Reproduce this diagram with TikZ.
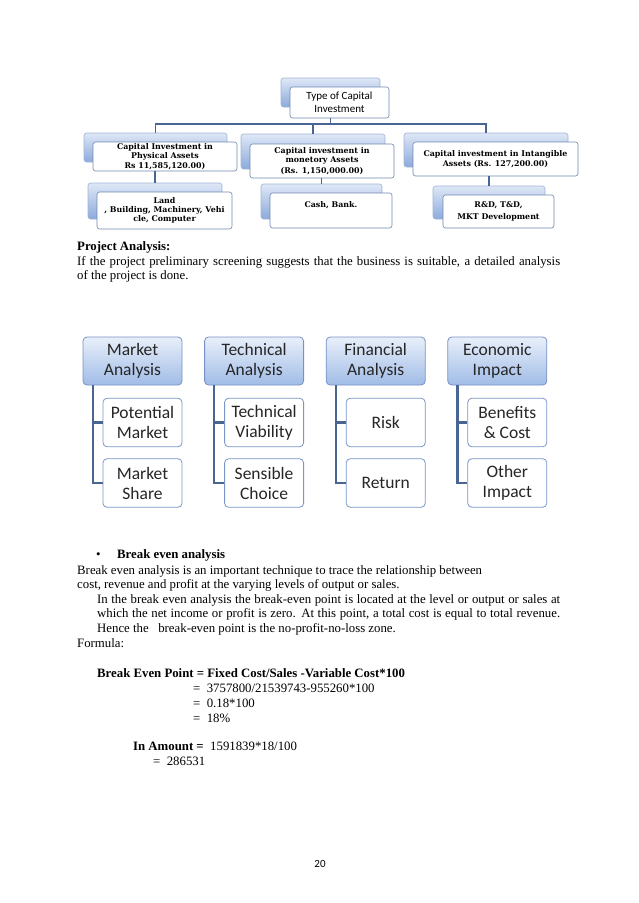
\documentclass[tikz,border=0pt]{standalone}
\usepackage{fontspec}
\setmainfont{Liberation Serif}
\newfontfamily\calfont{Carlito}
\newfontfamily\bookfont{DejaVu Serif}

\definecolor{backtop}{RGB}{222,231,246}
\definecolor{backbot}{RGB}{140,170,220}
\definecolor{backline}{RGB}{160,180,215}
\definecolor{frontline}{RGB}{112,136,176}
\definecolor{hdtop}{RGB}{232,239,250}
\definecolor{hdbot}{RGB}{160,188,230}
\definecolor{hdline}{RGB}{118,146,196}
\definecolor{kidline}{RGB}{122,150,200}
\definecolor{connline}{RGB}{72,102,145}

\newcommand{\bodyfont}{\fontsize{12.8}{14.5}\selectfont}

\begin{document}
\begin{tikzpicture}[
    x=1pt, y=-1pt,
    back/.style={draw=backline, line width=0.6pt, rounded corners=2.5pt, top color=backtop, bottom color=backbot},
    front/.style={draw=frontline, line width=0.6pt, fill=white, rounded corners=2.5pt, align=center, inner sep=0.5pt, font=\bookfont\bfseries\fontsize{7.9}{9.3}\selectfont},
    topbox/.style={front, font=\calfont\fontsize{11}{13}\selectfont},
    head/.style={draw=hdline, line width=0.8pt, rounded corners=4pt, top color=hdtop, bottom color=hdbot, minimum width=99pt, minimum height=48pt, align=center, text=black!85, font=\calfont\fontsize{17.5}{20}\selectfont},
    kid/.style={draw=kidline, line width=0.8pt, fill=white, rounded corners=4pt, minimum width=79pt, minimum height=48.5pt, align=center, text=black!85, font=\calfont\fontsize{17.5}{20}\selectfont},
    conn/.style={draw=connline, line width=2.2pt},
    thin/.style={draw=connline, line width=1.7pt},
    txt/.style={anchor=base west, inner sep=0pt, font=\bodyfont}
]
\useasboundingbox (0,0) rectangle (638,903);

% Type of capital investment
\node[back, minimum width=99pt, minimum height=29pt] (capB) at (330.5,92.5) {};
\node[back, minimum width=143pt, minimum height=29pt] (physB) at (155.5,147.5) {};
\node[back, minimum width=144pt, minimum height=35pt] (monB) at (313,151.5) {};
\node[back, minimum width=164pt, minimum height=34pt] (intB) at (486,150) {};
\node[back, minimum width=134pt, minimum height=36pt] (landB) at (155,201) {};
\node[back, minimum width=121pt, minimum height=35pt] (cashB) at (321.5,201.5) {};
\node[back, minimum width=112pt, minimum height=33pt] (rdB) at (489,202.5) {};

\node[topbox, minimum width=99pt, minimum height=31pt] (cap) at (339.5,102.5) {Type of Capital\\Investment};
\node[front, minimum width=144pt, minimum height=29pt] (phys) at (165,156.5) {Capital Investment in\\Physical Assets\\Rs 11,585,120.00)};
\node[front, minimum width=144pt, minimum height=34pt] (mon) at (322,161) {Capital investment in\\monetory Assets\\[2pt](Rs. 1,150,000.00)};
\node[front, minimum width=165pt, minimum height=34pt] (int) at (495.5,159) {Capital investment in Intangible\\Assets (Rs. 127,200.00)};
\node[front, minimum width=135pt, minimum height=37pt] (land) at (164.5,210.5) {Land\\, Building, Machinery, Vehi\\cle, Computer};
\node[front, minimum width=122pt, minimum height=35pt] (cash) at (331,210.5) {Cash, Bank.\\[2pt]\mbox{}};
\node[front, minimum width=111pt, minimum height=33pt] (rd) at (498.5,211.5) {R\&D, T\&D,\\[3pt]MKT Development};

\coordinate (bus) at (330.5,124);
\draw[thin] (cap.south -| capB.south) -- (bus);
\foreach \n in {physB, monB, intB}
    \draw[thin] (bus) -| (\n.north);
\draw[thin] (phys.south -| landB.north) -- (landB.north);
\draw[thin] (mon.south -| cashB.north) -- (cashB.north);
\draw[thin] (int.south -| rdB.north) -- (rdB.north);

% Project analysis
\node[txt] (pa) at (77,250) {\bfseries Project Analysis:};
\node[txt] (pa1) at (77,265) {\makebox[483pt][s]{If the project preliminary screening suggests that the business is suitable, a detailed analysis}};
\node[txt] (pa2) at (77,279) {of the project is done.};

\foreach \i/\nm/\hd/\ka/\kb in {0/mkt/{Market\\Analysis}/{Potential\\Market}/{Market\\Share},
    1/tec/{Technical\\Analysis}/{Technical\\Viability}/{Sensible\\Choice},
    2/fin/{Financial\\Analysis}/{Risk}/{Return},
    3/eco/{Economic\\Impact}/{Benefits\\\& Cost}/{Other\\Impact}}{
    \node[head] (\nm) at (132.5+121.6*\i,361) {\hd};
    \node[kid] (\nm1) at (142.5+121.6*\i,422.5) {\ka};
    \node[kid] (\nm2) at (142.5+121.6*\i,483) {\kb};
    \draw[conn] ([xshift=10pt]\nm.south west) |- (\nm2.west);
    \draw[conn] ([xshift=10pt]\nm.south west |- \nm1.west) -- (\nm1.west);
}

% Break even analysis
\node[txt] (bul) at (96,558) {\textbullet};
\node[txt] (be) at (117,558) {\bfseries Break even analysis};
\node[txt] (be1) at (77,574) {Break even analysis is an important technique to trace the relationship between};
\node[txt] (be2) at (77,588) {cost, revenue and profit at the varying levels of output or sales.};
\node[txt] (be3) at (97,603) {\makebox[463pt][s]{In the break even analysis the break-even point is located at the level or output or sales at}};
\node[txt] (be4) at (97,617) {\makebox[463pt][s]{which the net income or profit is zero. At this point, a total cost is equal to total revenue.}};
\node[txt] (be5) at (97,632) {Hence the\ \ \ break-even point is the no-profit-no-loss zone.};
\node[txt] (form) at (77,647) {Formula:};
\node[txt] (bep) at (97,677) {\bfseries Break Even Point = Fixed Cost/Sales -Variable Cost*100};
\node[txt] (eq1) at (193,692) {=\ \ 3757800/21539743-955260*100};
\node[txt] (eq2) at (193,707) {=\ \ 0.18*100};
\node[txt] (eq3) at (193,722) {=\ \ 18\%};
\node[txt] (amt) at (133,750) {\textbf{In Amount =}\ \ 1591839*18/100};
\node[txt] (eq4) at (153,765) {=\ \ 286531};

\node[anchor=base, inner sep=0pt, font=\calfont\fontsize{11}{13}\selectfont] (pg) at (320,867) {20};
\end{tikzpicture}
\end{document}
